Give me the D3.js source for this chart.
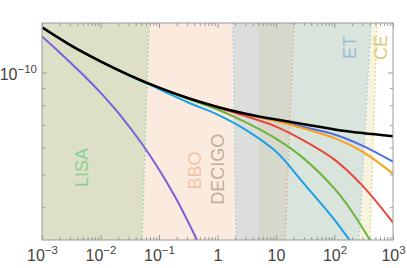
<!DOCTYPE html>
<html>
<head>
<meta charset="utf-8">
<script src="https://cdn.jsdelivr.net/npm/d3@7"></script>
<style>
  body { margin: 0; background: #fff; }
  svg { display: block; font-family: "Liberation Sans", Arial, Helvetica, sans-serif; }
</style>
</head>
<body>
<script>
// frequency grid (Hz) and strain values
const freq = [0.001, 0.003, 0.01, 0.03, 0.1, 0.3, 1, 3, 10, 30, 100, 300, 1000];
const blackVals = [1.359e-10, 1.2067e-10, 1.0785e-10, 0.9845e-10, 0.9016e-10, 0.8422e-10, 0.791e-10, 0.7556e-10, 0.7262e-10, 0.7034e-10, 0.6789e-10, 0.6622e-10, 0.6483e-10];
const blueVals = [1.359e-10, 1.2067e-10, 1.0785e-10, 0.9845e-10, 0.9016e-10, 0.8422e-10, 0.791e-10, 0.7556e-10, 0.7211e-10, 0.6898e-10, 0.656e-10, 0.608e-10, 0.545e-10];
const orangeVals = [1.359e-10, 1.2067e-10, 1.0785e-10, 0.9845e-10, 0.9016e-10, 0.8422e-10, 0.7905e-10, 0.7537e-10, 0.7187e-10, 0.6828e-10, 0.64e-10, 0.5838e-10, 0.5026e-10];
const redVals = [1.359e-10, 1.2067e-10, 1.0785e-10, 0.9845e-10, 0.9016e-10, 0.842e-10, 0.7881e-10, 0.7434e-10, 0.6922e-10, 0.6291e-10, 0.5528e-10, 0.463e-10, 0.36e-10];

const greenFreq = [0.001, 0.003, 0.01, 0.03, 0.1, 0.3, 1, 3, 10, 30, 100, 200, 400, 600];
const greenVals = [1.359e-10, 1.2067e-10, 1.0785e-10, 0.9845e-10, 0.899e-10, 0.8377e-10, 0.7773e-10, 0.7138e-10, 0.6377e-10, 0.5566e-10, 0.4537e-10, 0.3879e-10, 0.3206e-10, 0.2855e-10];

const cyanFreq = [0.001, 0.003, 0.01, 0.03, 0.1, 0.3, 1, 3, 10, 30, 100, 200];
const cyanVals = [1.359e-10, 1.2067e-10, 1.0785e-10, 0.9831e-10, 0.8936e-10, 0.8179e-10, 0.7509e-10, 0.6781e-10, 0.5838e-10, 0.4693e-10, 0.367e-10, 0.3119e-10];

const purpleFreq = [0.001, 0.002, 0.005, 0.01, 0.02, 0.05, 0.1, 0.2, 0.5];
const purpleVals = [1.278e-10, 1.1463e-10, 0.9862e-10, 0.8716e-10, 0.7605e-10, 0.6189e-10, 0.5169e-10, 0.4214e-10, 0.3073e-10];

// detector bands (frequency of edges at top / bottom of the frame)
const regionLeftTop = [0.001, 0.0675, 1.84, 4.9, 20.3, 421];
const regionLeftBottom = [0.001, 0.0512, 2.07, 4.9, 14.3, 262];
const regionRightTop = [0.0675, 1.84, 4.9, 20.3, 421, 532];
const regionRightBottom = [0.0512, 2.07, 4.9, 14.3, 262, 404];
const regionColors = ["#dde0c7", "#fbebdf", "#dcdedc", "#d6d8cb", "#d9e4dd", "#f6f3de"];

const edgeTop = [0.0675, 1.84, 20.3, 421, 532];
const edgeBottom = [0.0512, 2.07, 14.3, 262, 404];
const edgeColors = ["#93d3a0", "#a3cbe0", "#d9ac8c", "#a3cbe0", "#e3d57e"];

const detectorNames = ["LISA", "BBO", "DECIGO", "ET", "CE"];
const detectorFreq = [0.00483, 0.405, 1.0, 184, 611];
const detectorVals = [5.24e-11, 5.13e-11, 5.18e-11, 1.186e-10, 1.186e-10];
const detectorColors = ["#8dcf99", "#f2c3a5", "#c0ae9e", "#9bbdd3", "#d9cb7e"];

const xTickLabels = [["10", "-3"], ["10", "-2"], ["10", "-1"], ["1", ""], ["10", ""], ["10", "2"], ["10", "3"]];

const width = 407;
const height = 268;
const margin = { top: 23, right: 14, bottom: 28, left: 42 };

const svg = d3.select("body").append("svg")
  .attr("width", width)
  .attr("height", height);

const x = d3.scaleLog().domain([1e-3, 1e3]).range([margin.left, width - margin.right]);
const y = d3.scaleLog().domain([3.2e-11, 1.4e-10]).range([height - margin.bottom, margin.top]);

svg.append("clipPath").attr("id", "plot")
  .append("rect")
  .attr("x", margin.left).attr("y", margin.top)
  .attr("width", width - margin.left - margin.right)
  .attr("height", height - margin.top - margin.bottom);

const plot = svg.append("g").attr("clip-path", "url(#plot)");
const [yLo, yHi] = y.domain();

// band fills
plot.selectAll("path.band")
  .data(regionColors)
  .enter().append("path")
  .attr("class", "band")
  .attr("fill", d => d)
  .attr("d", (d, i) => "M" + [
    [x(regionLeftTop[i]), y(yHi)],
    [x(regionRightTop[i]), y(yHi)],
    [x(regionRightBottom[i]), y(yLo)],
    [x(regionLeftBottom[i]), y(yLo)]
  ].join("L") + "Z");

// dotted band edges
plot.selectAll("line.edge")
  .data(edgeColors)
  .enter().append("line")
  .attr("class", "edge")
  .attr("x1", (d, i) => x(edgeTop[i])).attr("y1", y(yHi))
  .attr("x2", (d, i) => x(edgeBottom[i])).attr("y2", y(yLo))
  .attr("stroke", d => d)
  .attr("stroke-width", 1.5)
  .attr("stroke-dasharray", "1.5,2.5");

// detector labels
plot.selectAll("text.det")
  .data(detectorNames)
  .enter().append("text")
  .attr("class", "det")
  .attr("transform", (d, i) => `translate(${x(detectorFreq[i])},${y(detectorVals[i])}) rotate(-90)`)
  .attr("text-anchor", "middle")
  .attr("dy", "0.36em")
  .attr("font-size", 18)
  .attr("fill", (d, i) => detectorColors[i])
  .text(d => d);

// curves
const line = d3.line()
  .x(d => x(d[0]))
  .y(d => y(d[1]))
  .curve(d3.curveCatmullRom.alpha(0.5));

const series = [
  { f: freq, v: blueVals, color: "#4c6fe2", w: 2 },
  { f: freq, v: orangeVals, color: "#f8a11b", w: 2 },
  { f: freq, v: redVals, color: "#e8483b", w: 2 },
  { f: greenFreq, v: greenVals, color: "#6cb33c", w: 2 },
  { f: cyanFreq, v: cyanVals, color: "#1aa0e6", w: 2 },
  { f: purpleFreq, v: purpleVals, color: "#7a5fd8", w: 2 },
  { f: freq, v: blackVals, color: "#000000", w: 2.5 }
];

plot.selectAll("path.curve")
  .data(series)
  .enter().append("path")
  .attr("class", "curve")
  .attr("fill", "none")
  .attr("stroke", d => d.color)
  .attr("stroke-width", d => d.w)
  .attr("stroke-linejoin", "round")
  .attr("d", d => line(d.f.map((f, i) => [f, d.v[i]])));

// ticks
const axisColor = "#9a9a9a";
const decades = d3.range(-3, 4).map(e => Math.pow(10, e));
const xMinor = [];
decades.slice(0, -1).forEach(dd => { for (let k = 2; k <= 9; k++) xMinor.push(dd * k); });
const yMinor = [4e-11, 5e-11, 6e-11, 7e-11, 8e-11, 9e-11];

function styleAxis(g) {
  g.select(".domain").remove();
  g.selectAll(".tick line").attr("stroke", axisColor);
}

const bottom = height - margin.bottom;
const right = width - margin.right;

svg.append("g").attr("transform", `translate(0,${bottom})`)
  .call(d3.axisBottom(x).tickValues(xMinor).tickSize(-3).tickFormat("")).call(styleAxis);
svg.append("g").attr("transform", `translate(0,${margin.top})`)
  .call(d3.axisTop(x).tickValues(xMinor).tickSize(-3).tickFormat("")).call(styleAxis);
svg.append("g").attr("transform", `translate(0,${margin.top})`)
  .call(d3.axisTop(x).tickValues(decades).tickSize(-5).tickFormat("")).call(styleAxis);

const xMajor = svg.append("g").attr("transform", `translate(0,${bottom})`)
  .call(d3.axisBottom(x).tickValues(decades).tickSize(-5)).call(styleAxis);

xMajor.selectAll(".tick text")
  .attr("y", 21)
  .attr("dy", null)
  .attr("fill", "#444")
  .attr("font-size", 16)
  .attr("font-family", "Liberation Sans, Arial, sans-serif")
  .text(null)
  .each(function (d, i) {
    const t = d3.select(this);
    t.append("tspan").text(xTickLabels[i][0]);
    if (xTickLabels[i][1]) {
      t.append("tspan").attr("dy", -7).attr("font-size", 11.5).text(xTickLabels[i][1].replace("-", "\u2212"));
    }
  });

svg.append("g").attr("transform", `translate(${margin.left},0)`)
  .call(d3.axisLeft(y).tickValues(yMinor).tickSize(-3).tickFormat("")).call(styleAxis);
svg.append("g").attr("transform", `translate(${right},0)`)
  .call(d3.axisRight(y).tickValues(yMinor).tickSize(-3).tickFormat("")).call(styleAxis);
svg.append("g").attr("transform", `translate(${right},0)`)
  .call(d3.axisRight(y).tickValues([1e-10]).tickSize(-5).tickFormat("")).call(styleAxis);

const yMajor = svg.append("g").attr("transform", `translate(${margin.left},0)`)
  .call(d3.axisLeft(y).tickValues([1e-10]).tickSize(-5)).call(styleAxis);

yMajor.selectAll(".tick text")
  .attr("x", -5)
  .attr("dy", null)
  .attr("y", 7)
  .attr("fill", "#444")
  .attr("font-size", 16)
  .attr("font-family", "Liberation Sans, Arial, sans-serif")
  .text(null)
  .each(function () {
    const t = d3.select(this);
    t.append("tspan").text("10");
    t.append("tspan").attr("dy", -7).attr("font-size", 11.5).text("\u221210");
  });

// frame
svg.append("rect")
  .attr("x", margin.left).attr("y", margin.top)
  .attr("width", right - margin.left)
  .attr("height", bottom - margin.top)
  .attr("fill", "none")
  .attr("stroke", axisColor)
  .attr("stroke-width", 1);
</script>
</body>
</html>
